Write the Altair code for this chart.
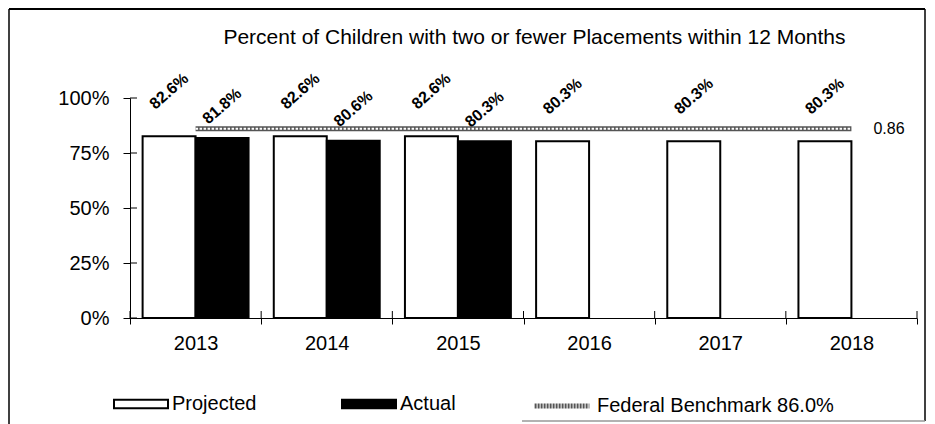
import altair as alt
import pandas as pd

years = ["2013", "2014", "2015", "2016", "2017", "2018"]
projected = [0.826, 0.826, 0.826, 0.803, 0.803, 0.803]
actual_years = ["2013", "2014", "2015"]
actual = [0.818, 0.806, 0.803]
benchmark = [0.86, 0.86, 0.86, 0.86, 0.86, 0.86]
series_names = ["Projected", "Actual"]
bench_label = "Federal Benchmark 86.0%"
title_text = "Percent of Children with two or fewer Placements within 12 Months"
y_ticks = [0, 0.25, 0.5, 0.75, 1.0]

bars_df = pd.DataFrame({
    "year": years + actual_years,
    "series": ["Projected"] * len(years) + ["Actual"] * len(actual_years),
    "value": projected + actual,
})
bench_df = pd.DataFrame({"year": years, "value": benchmark, "name": [bench_label] * len(years)})
ticks_df = pd.DataFrame({"v": y_ticks})
years_df = pd.DataFrame({"year": years})
title_df = pd.DataFrame({"t": [title_text]})

W, H = 787, 220
FONT = "Liberation Sans"

x_scale = alt.Scale(domain=years, paddingInner=0, paddingOuter=0)
x_axis = alt.Axis(title=None, labelAngle=0, labelFontSize=20, tickBand="extent",
                  tickSize=6, labelPadding=9, domainColor="black", tickColor="black",
                  labelColor="black", labelFont=FONT, grid=False)
y_scale = alt.Scale(domain=[0, 1])
y_axis = alt.Axis(title=None, values=y_ticks, format=".0%", labelFontSize=20,
                  tickSize=7, labelPadding=14, domainColor="black", tickColor="black",
                  labelColor="black", labelFont=FONT, grid=False)
xoff = alt.XOffset("series:N", scale=alt.Scale(domain=series_names, paddingInner=0, paddingOuter=0.238))

bar_legend = alt.Legend(
    title=None, orient="none", legendX=-17, legendY=278, direction="horizontal",
    columns=2, symbolSize=2916, labelFontSize=20, labelColor="black", labelFont=FONT,
    labelOffset=3, columnPadding=81, padding=0, labelLimit=400,
    symbolType="M-1,-0.16L1,-0.16L1,0.16L-1,0.16Z",
    symbolStrokeColor="black", symbolStrokeWidth=2,
)
line_legend = alt.Legend(
    title=None, orient="none", legendX=402, legendY=278, direction="horizontal",
    symbolSize=3000, labelFontSize=20, labelColor="black", labelFont=FONT,
    labelOffset=5, padding=0, labelLimit=400, symbolType="stroke",
    symbolStrokeWidth=5, symbolDash=[2, 1], symbolStrokeColor="#666",
)

base = alt.Chart(bars_df)

bars = base.mark_bar(stroke="black", strokeWidth=2).encode(
    x=alt.X("year:N", scale=x_scale, axis=x_axis),
    xOffset=xoff,
    y=alt.Y("value:Q", scale=y_scale, axis=y_axis),
    fill=alt.Fill("series:N", scale=alt.Scale(domain=series_names, range=["white", "black"]),
                  legend=bar_legend),
)

lab_proj = base.transform_filter("datum.series == 'Projected'").mark_text(
    angle=319, align="center", baseline="middle", dx=29.5, dy=-34,
    fontSize=16, fontWeight="bold", font=FONT, color="black"
).encode(x=alt.X("year:N", scale=x_scale), xOffset=xoff, y="value:Q",
         text=alt.Text("value:Q", format=".1%"))

lab_act = base.transform_filter("datum.series == 'Actual'").mark_text(
    angle=319, align="center", baseline="middle", dx=21, dy=-24,
    fontSize=16, fontWeight="bold", font=FONT, color="black"
).encode(x=alt.X("year:N", scale=x_scale), xOffset=xoff, y="value:Q",
         text=alt.Text("value:Q", format=".1%"))

bench_outer = alt.Chart(bench_df).mark_line(strokeWidth=5).encode(
    x=alt.X("year:N", scale=x_scale), y="value:Q",
    stroke=alt.Stroke("name:N", scale=alt.Scale(domain=[bench_label], range=["#555"]),
                      legend=line_legend))
bench_inner = alt.Chart(bench_df).mark_line(color="white", strokeWidth=2, strokeDash=[2.5, 1.5]).encode(
    x=alt.X("year:N", scale=x_scale), y="value:Q")
bench_text = alt.Chart(bench_df).transform_filter(
    alt.datum.year == years[-1]).mark_text(
    align="left", baseline="middle", dx=22, fontSize=16, font=FONT, color="black"
).encode(x=alt.X("year:N", scale=x_scale), y="value:Q",
         text=alt.Text("value:Q", format=".2f"))

title_mark = alt.Chart(title_df).mark_text(
    align="center", baseline="alphabetic", fontSize=21, font=FONT, color="black"
).encode(x=alt.value(W / 2 + 11), y=alt.value(-54), text="t:N")

# inner halves of the cross-style tick marks
ytick_in = alt.Chart(ticks_df).mark_rule(color="black", strokeWidth=1).encode(
    y=alt.Y("v:Q", scale=y_scale), x=alt.value(0), x2=alt.value(7))
xtick_in = alt.Chart(years_df).mark_rule(color="black", strokeWidth=1).encode(
    x=alt.X("year:N", scale=x_scale, bandPosition=0), y=alt.value(H - 7), y2=alt.value(H))
xtick_end = alt.Chart(years_df).transform_filter(alt.datum.year == years[-1]).mark_rule(
    color="black", strokeWidth=1).encode(
    x=alt.X("year:N", scale=x_scale, bandPosition=1), y=alt.value(H - 7), y2=alt.value(H))

# outer frame of the figure
one = pd.DataFrame({"a": [0]})
frame_l = alt.Chart(one).mark_rule(color="black", strokeWidth=1.5).encode(
    x=alt.value(-121), y=alt.value(-89), y2=alt.value(330))
frame_t = alt.Chart(one).mark_rule(color="black", strokeWidth=2).encode(
    x=alt.value(-121), x2=alt.value(795), y=alt.value(-89))
frame_r = alt.Chart(one).mark_rule(color="black", strokeWidth=1.5).encode(
    x=alt.value(795), y=alt.value(-89), y2=alt.value(323))
frame_b = alt.Chart(one).mark_rule(color="#999", strokeWidth=1.5).encode(
    x=alt.value(392), x2=alt.value(795), y=alt.value(323))

chart = alt.layer(
    bars, bench_outer, bench_inner, lab_proj, lab_act, bench_text, title_mark,
    ytick_in, xtick_in, xtick_end, frame_l, frame_t, frame_r, frame_b
).resolve_legend(fill="independent", stroke="independent").properties(
    width=W, height=H,
    autosize=alt.AutoSizeParams(type="none"),
    padding={"left": 122, "top": 90, "right": 10, "bottom": 106},
).configure(font=FONT).configure_view(stroke=None)

chart.save("out.html", embed_options={"renderer": "svg", "actions": False})
